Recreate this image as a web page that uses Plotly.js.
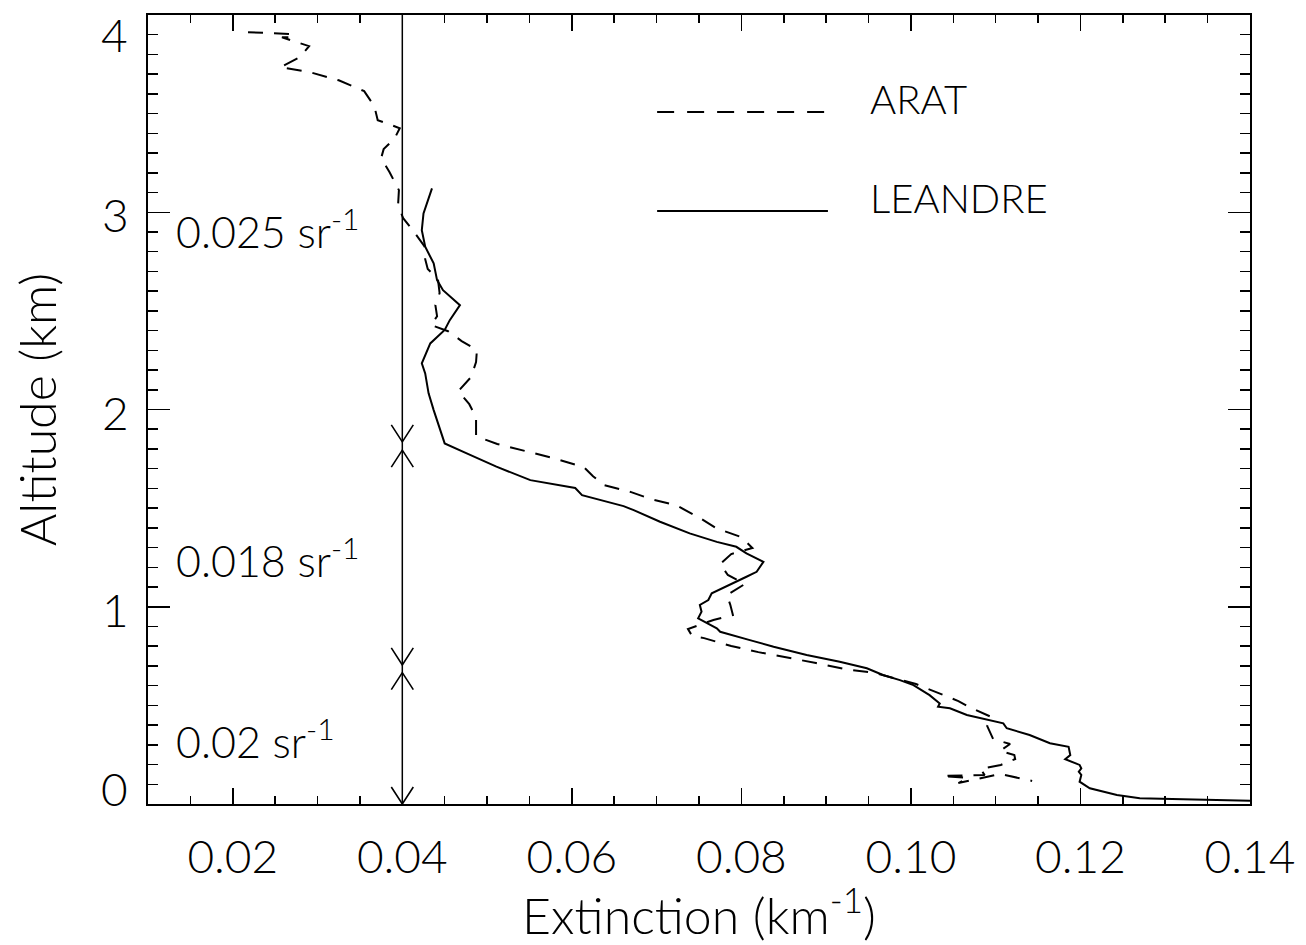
<!DOCTYPE html>
<html><head><meta charset="utf-8">
<script src="https://cdn.plot.ly/plotly-3.0.1.min.js"></script>
<style>html,body{margin:0;padding:0;background:#fff;}#chart{width:1306px;height:945px;}</style>
</head><body><div id="chart"></div>
<script>
// ---- data ----
const seriesNames = ['ARAT', 'LEANDRE'];

const aratAltitude = [3.913, 3.908, 3.903, 3.887, 3.887, 3.842, 3.786, 3.735, 3.710, 3.669,
  3.614, 3.538, 3.467, 3.426, 3.375, 3.320, 3.274, 3.203, 3.112, 3.036,
  2.970, 2.899, 2.828, 2.762, 2.712, 2.661, 2.590, 2.529, 2.473, 2.428,
  2.397, 2.347, 2.301, 2.240, 2.164, 2.093, 2.027, 1.961, 1.865, 1.825,
  1.789, 1.754, 1.708, 1.662, 1.617, 1.581, 1.546, 1.515, 1.450, 1.399,
  1.353, 1.298, 1.267, 1.216, 1.161, 1.115, 1.059, 1.009, 0.958, 0.933,
  0.887, 0.851, 0.841, 0.801, 0.770, 0.745, 0.715, 0.684, 0.664, 0.608,
  0.563, 0.522, 0.487, 0.441, 0.395, 0.329, 0.304, 0.269, 0.248, 0.228,
  0.198, 0.177, 0.147, 0.142, 0.132, 0.106, 0.152, 0.117];
const aratExtinction = [0.0218, 0.0244, 0.0270, 0.0271, 0.0258, 0.0290, 0.0279, 0.0256, 0.0291, 0.0325,
  0.0355, 0.0367, 0.0371, 0.0397, 0.0391, 0.0378, 0.0375, 0.0385, 0.0396, 0.0395,
  0.0401, 0.0414, 0.0426, 0.0427, 0.0430, 0.0442, 0.0444, 0.0439, 0.0441, 0.0434,
  0.0454, 0.0470, 0.0488, 0.0487, 0.0481, 0.0466, 0.0479, 0.0487, 0.0487, 0.0512,
  0.0547, 0.0578, 0.0614, 0.0625, 0.0638, 0.0670, 0.0693, 0.0723, 0.0751, 0.0770,
  0.0800, 0.0813, 0.0788, 0.0775, 0.0784, 0.0804, 0.0783, 0.0787, 0.0790, 0.0767,
  0.0737, 0.0742, 0.0756, 0.0788, 0.0820, 0.0853, 0.0888, 0.0922, 0.0958, 0.1006,
  0.1032, 0.1056, 0.1071, 0.1095, 0.1090, 0.1097, 0.1117, 0.1105, 0.1122, 0.1123,
  0.1106, 0.1082, 0.1087, 0.1037, 0.1067, 0.1056, 0.1105, 0.1143];

const leandreAltitude = [3.121, 2.994, 2.909, 2.825, 2.741, 2.656, 2.605, 2.529, 2.453, 2.403,
  2.335, 2.234, 2.183, 2.082, 1.997, 1.912, 1.828, 1.778, 1.710, 1.642,
  1.602, 1.566, 1.541, 1.510, 1.490, 1.431, 1.372, 1.329, 1.304, 1.271,
  1.228, 1.177, 1.152, 1.119, 1.068, 1.034, 1.009, 0.975, 0.941, 0.891,
  0.873, 0.831, 0.797, 0.755, 0.721, 0.688, 0.654, 0.628, 0.603, 0.552,
  0.510, 0.493, 0.485, 0.451, 0.434, 0.409, 0.384, 0.350, 0.308, 0.290,
  0.248, 0.227, 0.198, 0.181, 0.164, 0.147, 0.113, 0.080, 0.046, 0.029,
  0.024, 0.020, 0.017];
const leandreExtinction = [0.0435, 0.0425, 0.0423, 0.0427, 0.0437, 0.0441, 0.0448, 0.0468, 0.0456, 0.0450,
  0.0433, 0.0423, 0.0427, 0.0431, 0.0437, 0.0444, 0.0450, 0.0476, 0.0511, 0.0551,
  0.0604, 0.0612, 0.0633, 0.0661, 0.0673, 0.0704, 0.0739, 0.0771, 0.0794, 0.0806,
  0.0826, 0.0818, 0.0806, 0.0790, 0.0765, 0.0761, 0.0751, 0.0753, 0.0749, 0.0771,
  0.0775, 0.0810, 0.0838, 0.0877, 0.0916, 0.0948, 0.0967, 0.0987, 0.1003, 0.1022,
  0.1034, 0.1032, 0.1046, 0.1066, 0.1085, 0.1109, 0.1113, 0.1140, 0.1164, 0.1186,
  0.1188, 0.1182, 0.1199, 0.1201, 0.1198, 0.1201, 0.1199, 0.1211, 0.1243, 0.1270,
  0.1321, 0.1380, 0.1400];

// lidar ratio layers (bottom to top)
const lidarRatioLabels = ['0.02', '0.018', '0.025'];
const layerBottom = [0.0, 0.705, 1.836];
const layerTop = [0.666, 1.794, 4.0];
const ratioMarkerExtinction = 0.04;

const xTickValues = [0.02, 0.04, 0.06, 0.08, 0.10, 0.12, 0.14];
const xTickLabels = ['0.02', '0.04', '0.06', '0.08', '0.10', '0.12', '0.14'];
const yTickValues = [0, 1, 2, 3, 4];
const yTickLabels = ['0', '1', '2', '3', '4'];

// ---- chart ----
const FONT = 'Lato, "DejaVu Sans", sans-serif';
const xRange = [0.01, 0.14];
const yRange = [0, 4];

// arrow-head geometry (pixel sizes converted to data units)
const plotW = 1306 - 148 - 56, plotH = 945 - 15 - 141;
const headHalfW = 11 * (xRange[1] - xRange[0]) / plotW;
const headLen = 17 * (yRange[1] - yRange[0]) / plotH;

const headX = [], headY = [];
function addHead(yTip, dir) {
  headX.push(ratioMarkerExtinction - headHalfW, ratioMarkerExtinction, ratioMarkerExtinction + headHalfW, null);
  headY.push(yTip - dir * headLen, yTip, yTip - dir * headLen, null);
}
for (let i = 0; i < lidarRatioLabels.length; i++) {
  addHead(layerBottom[i], -1);
  if (layerTop[i] < yRange[1]) addHead(layerTop[i], 1);
}

const traces = [
  {x: aratExtinction, y: aratAltitude, name: seriesNames[0], type: 'scatter', mode: 'lines',
   line: {color: '#000', width: 2, dash: '15px,11px'}},
  {x: leandreExtinction, y: leandreAltitude, name: seriesNames[1], type: 'scatter', mode: 'lines',
   line: {color: '#000', width: 2}},
  {x: headX, y: headY, type: 'scatter', mode: 'lines', connectgaps: false, showlegend: false,
   line: {color: '#000', width: 1.6}, cliponaxis: false}
];

const annotations = [];
const shapes = [];

// vertical marker line at the ratio extinction
shapes.push({type: 'line', xref: 'x', yref: 'y', x0: ratioMarkerExtinction, x1: ratioMarkerExtinction,
  y0: yRange[0], y1: yRange[1], line: {color: '#000', width: 1.5}});

for (let i = 0; i < lidarRatioLabels.length; i++) {
  annotations.push({
    xref: 'x', yref: 'y', x: 0.0131, y: (layerBottom[i] + layerTop[i]) / 2,
    xanchor: 'left', yanchor: 'middle', showarrow: false,
    text: lidarRatioLabels[i] + ' sr<sup>-1</sup>',
    font: {family: FONT, size: 43, color: '#000', weight: 300}
  });
}

// y tick labels at the two range ends are drawn inside the vertical extent (as in the original)
const tickFont = {family: FONT, size: 46, color: '#000', weight: 300};
const yTickTextShown = yTickValues.map((v, i) => (v === yRange[0] || v === yRange[1]) ? '' : yTickLabels[i]);
yTickValues.forEach((v, i) => {
  if (v === yRange[0] || v === yRange[1]) {
    annotations.push({xref: 'paper', yref: 'y', x: 0, y: v, xanchor: 'right', yanchor: 'middle',
      xshift: -18, yshift: v === yRange[1] ? -19 : 16, showarrow: false,
      text: yTickLabels[i], font: tickFont});
  }
});

// legend drawn inside the plot
const legendRows = [
  {name: seriesNames[0], dash: '17px,13px', yLine: 0.877, yText: 0.893},
  {name: seriesNames[1], dash: 'solid', yLine: 0.7516, yText: 0.768}
];
legendRows.forEach(r => {
  shapes.push({type: 'line', xref: 'paper', yref: 'paper', x0: 0.462, x1: 0.617, y0: r.yLine, y1: r.yLine,
    line: {color: '#000', width: 2, dash: r.dash}});
  annotations.push({xref: 'paper', yref: 'paper', x: 0.653, y: r.yText, xanchor: 'left', yanchor: 'middle',
    showarrow: false, text: r.name, font: {family: FONT, size: 40, color: '#000', weight: 300}});
});

const axisCommon = {
  showline: true, linewidth: 2, linecolor: '#000', mirror: 'ticks',
  ticks: 'inside', tickwidth: 1.5, tickcolor: '#000',
  showgrid: false, zeroline: false, automargin: false,
  ticklabeloverflow: 'allow',
  tickfont: tickFont
};

const layout = {
  width: 1306, height: 945,
  margin: {l: 148, r: 56, t: 15, b: 141, pad: 0},
  paper_bgcolor: '#fff', plot_bgcolor: '#fff',
  showlegend: false,
  font: {family: FONT, color: '#000', weight: 300},
  xaxis: Object.assign({}, axisCommon, {
    range: xRange, tickmode: 'array', tickvals: xTickValues, ticktext: xTickLabels,
    ticklen: 16, ticklabelstandoff: 12,
    minor: {dtick: 0.005, ticks: 'inside', ticklen: 8, tickwidth: 1.5, tickcolor: '#000', showgrid: false},
    title: {text: 'Extinction (km<sup>-1</sup>)', font: {family: FONT, size: 50, color: '#000', weight: 300}, standoff: 14}
  }),
  yaxis: Object.assign({}, axisCommon, {
    range: yRange, tickmode: 'array', tickvals: yTickValues, ticktext: yTickTextShown,
    ticklen: 22, ticklabelstandoff: 8, ticklabelshift: 4,
    minor: {dtick: 0.1, ticks: 'inside', ticklen: 10, tickwidth: 1.5, tickcolor: '#000', showgrid: false},
    title: {text: 'Altitude (km)', font: {family: FONT, size: 50, color: '#000', weight: 300}, standoff: 30}
  }),
  shapes: shapes,
  annotations: annotations
};

Plotly.newPlot('chart', traces, layout, {displayModeBar: false, staticPlot: true});
</script></body></html>
